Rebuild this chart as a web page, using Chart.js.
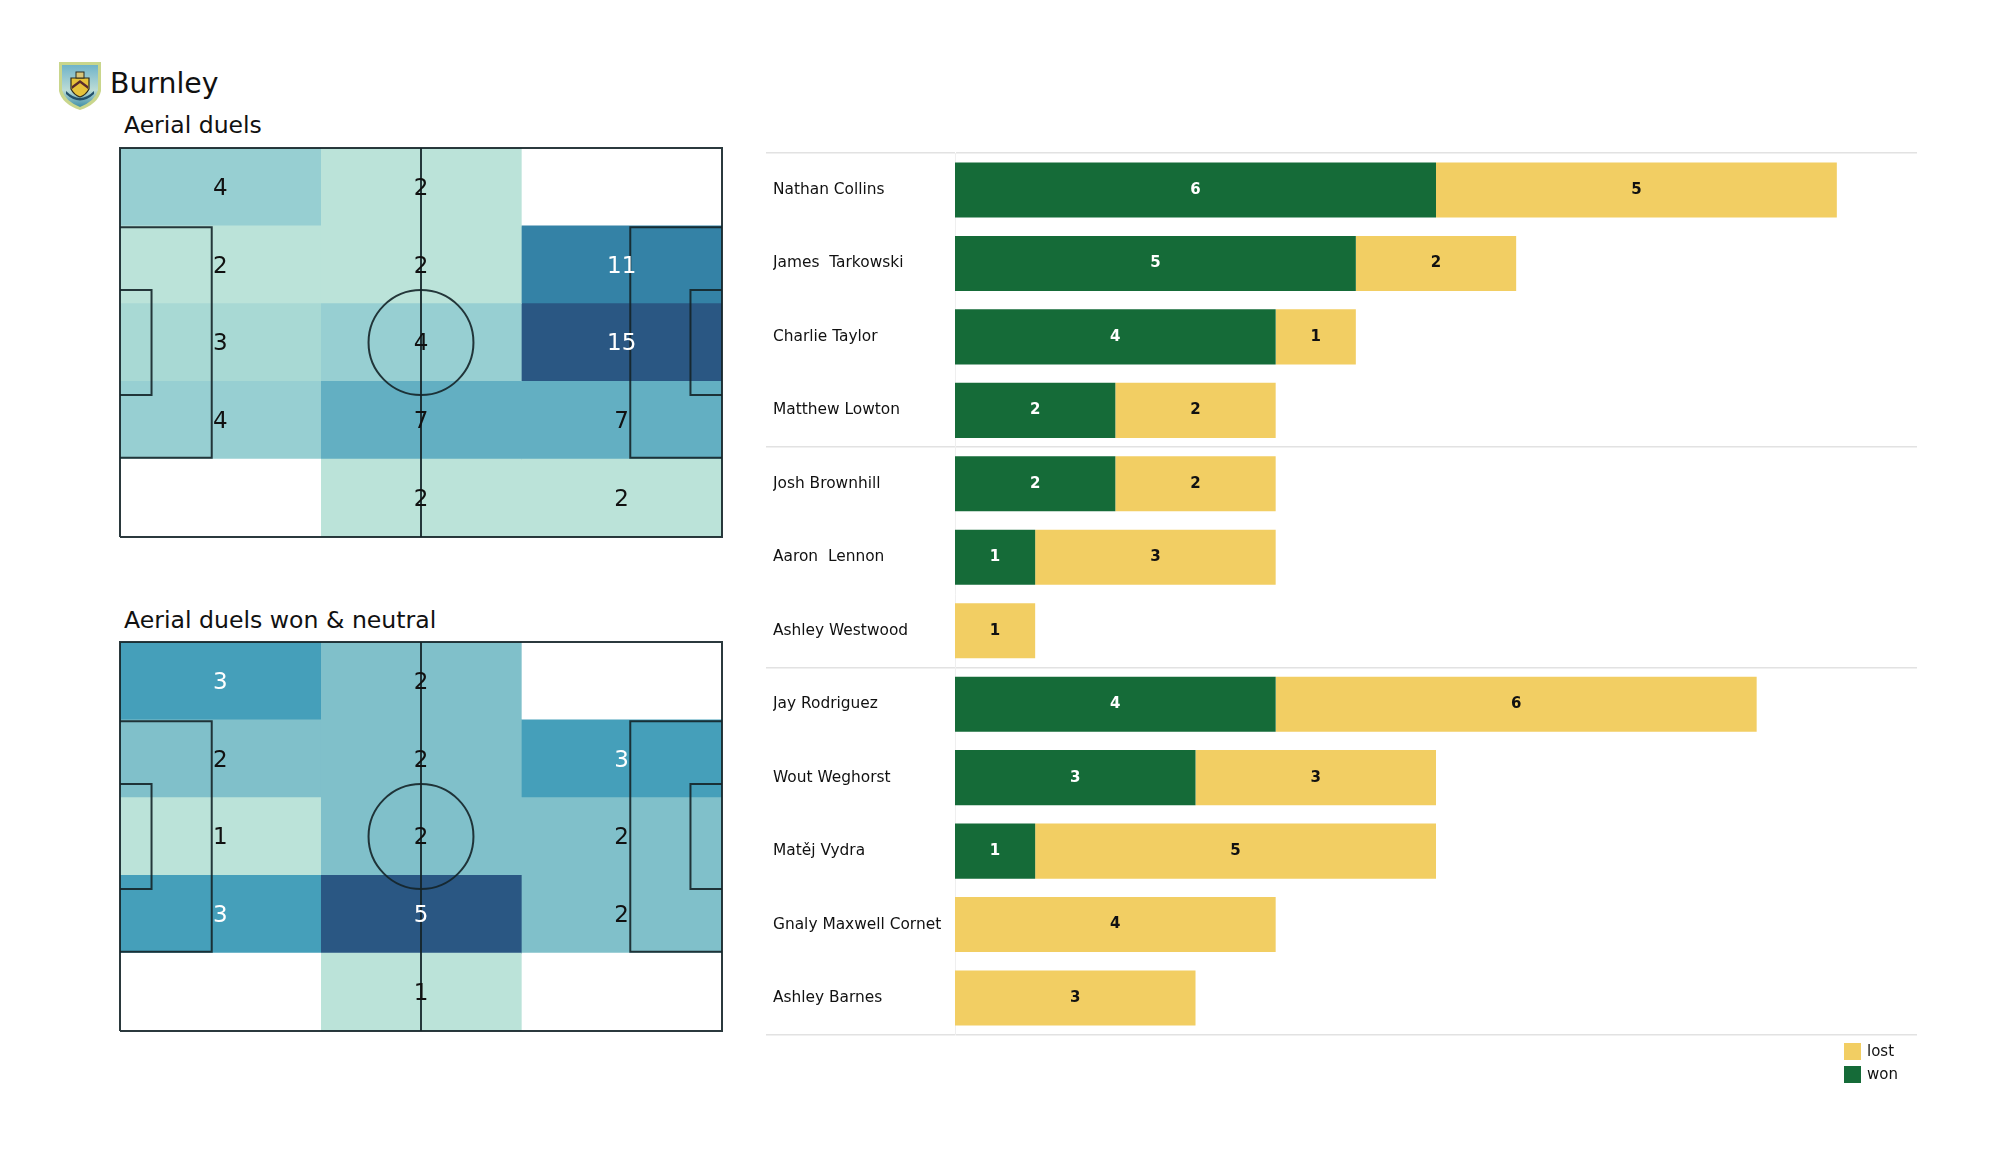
<!DOCTYPE html>
<html>
<head>
<meta charset="utf-8">
<title>Burnley aerial duels</title>
<script src="https://cdn.jsdelivr.net/npm/chart.js@4"></script>
<style>
    body { margin: 0; width: 2000px; height: 1175px; background: #fff; position: relative; overflow: hidden;
        font-family: "DejaVu Sans", sans-serif; color: #111; }
    canvas { position: absolute; }
    .txt { position: absolute; white-space: nowrap; line-height: 1; }
    .swatch { position: absolute; width: 17px; height: 17px; }
    #crest { position: absolute; left: 58px; top: 61px; }
</style>
</head>
<body>
<svg id="crest" width="44" height="50" viewBox="0 0 44 50">
    <defs>
        <linearGradient id="sky" x1="0" y1="0" x2="0" y2="1">
            <stop offset="0" stop-color="#6fb3c9"/><stop offset="0.6" stop-color="#bcdcd6"/><stop offset="1" stop-color="#3f8fa8"/>
        </linearGradient>
    </defs>
    <path d="M1 1 H43 V30 Q40 43 22 49 Q4 43 1 30 Z" fill="#c9d68c"/>
    <path d="M4 4 H40 V29 Q37 40 22 46 Q7 40 4 29 Z" fill="url(#sky)"/>
    <path d="M13 17 H31 V28 Q28 34 22 36 Q16 34 13 28 Z" fill="#e6c23a" stroke="#2c2a1c" stroke-width="1.2"/>
    <path d="M14 25 L22 19 L30 25 L30 28 L22 22 L14 28 Z" fill="#5a2c2c"/>
    <rect x="18" y="11" width="8" height="6" fill="#d9c67a" stroke="#2c2a1c" stroke-width="1"/>
    <path d="M8 30 Q22 44 36 30 L36 33 Q22 46 8 33 Z" fill="#23506a"/>
</svg>
<div class="txt" style="left:110px;top:70px;font-size:28.3px">Burnley</div>
<div class="txt" style="left:124px;top:114px;font-size:23.5px">Aerial duels</div>
<div class="txt" style="left:124px;top:609px;font-size:23.6px">Aerial duels won &amp; neutral</div>

<canvas id="pitch1" width="622" height="409" style="left:110px;top:138px"></canvas>
<canvas id="pitch2" width="622" height="409" style="left:110px;top:632px"></canvas>
<canvas id="bars" width="1170" height="906" style="left:756px;top:141px"></canvas>

<div id="legend"></div>

<script>
// heatmap counts, top row first, columns left to right
const duelsCol1 = [4, 2, 3, 4, 0];
const duelsCol2 = [2, 2, 4, 7, 2];
const duelsCol3 = [0, 11, 15, 7, 2];
const wonCol1 = [3, 2, 1, 3, 0];
const wonCol2 = [2, 2, 2, 5, 1];
const wonCol3 = [0, 3, 2, 2, 0];
const rowNames = ["r1", "r2", "r3", "r4", "r5"];

const duelsColours = { 0: "#ffffff", 2: "#bbe3d9", 3: "#a8d9d4", 4: "#97cfd2", 7: "#63afc2", 11: "#3482a6", 15: "#2a5783" };
const wonColours = { 0: "#ffffff", 1: "#bbe3d9", 2: "#80c0ca", 3: "#459fba", 5: "#2a5783" };

// players bars
const players = ["Nathan Collins", "James  Tarkowski", "Charlie Taylor", "Matthew Lowton", "Josh Brownhill",
    "Aaron  Lennon", "Ashley Westwood", "Jay Rodriguez", "Wout Weghorst", "Matěj Vydra", "Gnaly Maxwell Cornet", "Ashley Barnes"];
const won = [6, 5, 4, 2, 2, 1, 0, 4, 3, 1, 0, 0];
const lost = [5, 2, 1, 2, 2, 3, 1, 6, 3, 5, 4, 3];
const groupStarts = [0, 4, 7];

const wonColour = "#156b38";
const lostColour = "#f2ce63";

// pitch markings in metres
const pitchLength = 105;
const pitchWidth = 68;
const outline = [[0, 0], [105, 0], [105, 68], [0, 68], [0, 0]];
const halfway = [[52.5, 0], [52.5, 68]];
const leftBox = [[0, 13.84], [16, 13.84], [16, 54.16], [0, 54.16]];
const rightBox = [[105, 13.84], [89, 13.84], [89, 54.16], [105, 54.16]];
const leftSix = [[0, 24.84], [5.5, 24.84], [5.5, 43.16], [0, 43.16]];
const rightSix = [[105, 24.84], [99.5, 24.84], [99.5, 43.16], [105, 43.16]];
const centreSpot = [[52.5, 34]];
const circleRadius = 9.15;

const lineColour = "rgba(20,35,40,0.9)";

function pitchLine(points) {
    return {
        type: "scatter",
        xAxisID: "xPitch",
        yAxisID: "yPitch",
        data: points.map((p) => ({ x: p[0], y: p[1] })),
        showLine: true,
        borderColor: lineColour,
        borderWidth: 2,
        pointRadius: 0,
        fill: false,
        clip: false,
        order: 0,
    };
}

// writes the count in the middle of each heat cell
const cellLabels = {
    id: "cellLabels",
    afterDatasetsDraw(chart) {
        const ctx = chart.ctx;
        const top = Math.max(...chart.data.datasets.flatMap((d) => d.counts || []));
        ctx.save();
        ctx.font = "23px 'DejaVu Sans'";
        ctx.textAlign = "center";
        ctx.textBaseline = "middle";
        chart.data.datasets.forEach((ds, i) => {
            if (!ds.counts) return;
            chart.getDatasetMeta(i).data.forEach((bar, r) => {
                if (!ds.counts[r]) return;
                ctx.fillStyle = ds.counts[r] > top / 2 ? "#ffffff" : "#111111";
                ctx.fillText(ds.counts[r], (bar.x + bar.base) / 2, bar.y + 2);
            });
        });
        ctx.restore();
    },
};

function drawPitch(id, columns, colours) {
    const cells = columns.map((counts, c) => ({
        type: "bar",
        indexAxis: "y",
        xAxisID: "x",
        yAxisID: "y",
        counts: counts,
        data: counts.map(() => [c, c + 1]),
        backgroundColor: counts.map((v) => colours[v]),
        borderWidth: 0,
        barPercentage: 1,
        categoryPercentage: 1,
        grouped: false,
        order: 1,
    }));
    const circle = {
        ...pitchLine(centreSpot),
        showLine: false,
        pointStyle: "circle",
        pointBackgroundColor: "rgba(0,0,0,0)",
        pointBorderColor: lineColour,
        pointBorderWidth: 2,
        pointRadius: (c) => c.chart.scales.xPitch.getPixelForValue(circleRadius) - c.chart.scales.xPitch.getPixelForValue(0),
    };
    new Chart(document.getElementById(id), {
        data: {
            labels: rowNames,
            datasets: cells.concat([outline, halfway, leftBox, rightBox, leftSix, rightSix].map(pitchLine), [circle]),
        },
        options: {
            responsive: false,
            animation: false,
            indexAxis: "y",
            layout: { padding: 10 },
            plugins: { legend: { display: false }, tooltip: { enabled: false } },
            scales: {
                x: { type: "linear", min: 0, max: 3, display: false },
                y: { type: "category", display: false },
                xPitch: { type: "linear", axis: "x", min: 0, max: pitchLength, display: false },
                yPitch: { type: "linear", axis: "y", min: 0, max: pitchWidth, display: false },
            },
        },
        plugins: [cellLabels],
    });
}

drawPitch("pitch1", [duelsCol1, duelsCol2, duelsCol3], duelsColours);
drawPitch("pitch2", [wonCol1, wonCol2, wonCol3], wonColours);

// numbers inside the stacked bars
const barLabels = {
    id: "barLabels",
    afterDatasetsDraw(chart) {
        const ctx = chart.ctx;
        ctx.save();
        ctx.font = "bold 15px 'DejaVu Sans'";
        ctx.textAlign = "center";
        ctx.textBaseline = "middle";
        chart.data.datasets.forEach((ds, i) => {
            ctx.fillStyle = ds.label === "won" ? "#ffffff" : "#111111";
            chart.getDatasetMeta(i).data.forEach((bar, r) => {
                if (!ds.data[r]) return;
                ctx.fillText(ds.data[r], (bar.x + bar.base) / 2, bar.y);
            });
        });
        ctx.restore();
    },
};

function isSeparator(c) {
    return c.index === undefined || groupStarts.includes(c.index);
}

new Chart(document.getElementById("bars"), {
    type: "bar",
    data: {
        labels: players,
        datasets: [
            { label: "won", data: won, backgroundColor: wonColour },
            { label: "lost", data: lost, backgroundColor: lostColour },
        ],
    },
    options: {
        responsive: false,
        animation: false,
        indexAxis: "y",
        layout: { padding: { left: 17, right: 9, top: 10, bottom: 10 } },
        datasets: { bar: { barPercentage: 0.75, categoryPercentage: 1, borderWidth: 0 } },
        plugins: { legend: { display: false }, tooltip: { enabled: false } },
        scales: {
            x: { type: "linear", stacked: true, min: 0, max: 12, display: false },
            y: {
                type: "category",
                stacked: true,
                afterFit: (scale) => { scale.width = 182; },
                border: { display: true, color: "#efefef", width: 1 },
                grid: {
                    offset: true,
                    tickLength: 189,
                    lineWidth: 1.5,
                    color: (c) => (isSeparator(c) ? "#e2e2e2" : "rgba(0,0,0,0)"),
                    tickColor: (c) => (isSeparator(c) ? "#e2e2e2" : "rgba(0,0,0,0)"),
                },
                ticks: {
                    crossAlign: "far",
                    autoSkip: false,
                    color: "#111111",
                    font: { family: "'DejaVu Sans'", size: 15.4 },
                },
            },
        },
    },
    plugins: [barLabels],
});

// legend, lost above won as in the source
const legendBox = document.getElementById("legend");
[["lost", lostColour, 1043], ["won", wonColour, 1066]].forEach(([name, colour, top]) => {
    legendBox.innerHTML += `<div class="swatch" style="left:1844px;top:${top}px;background:${colour}"></div>
        <div class="txt" style="left:1867px;top:${top + 1}px;font-size:15px">${name}</div>`;
});
</script>
</body>
</html>
